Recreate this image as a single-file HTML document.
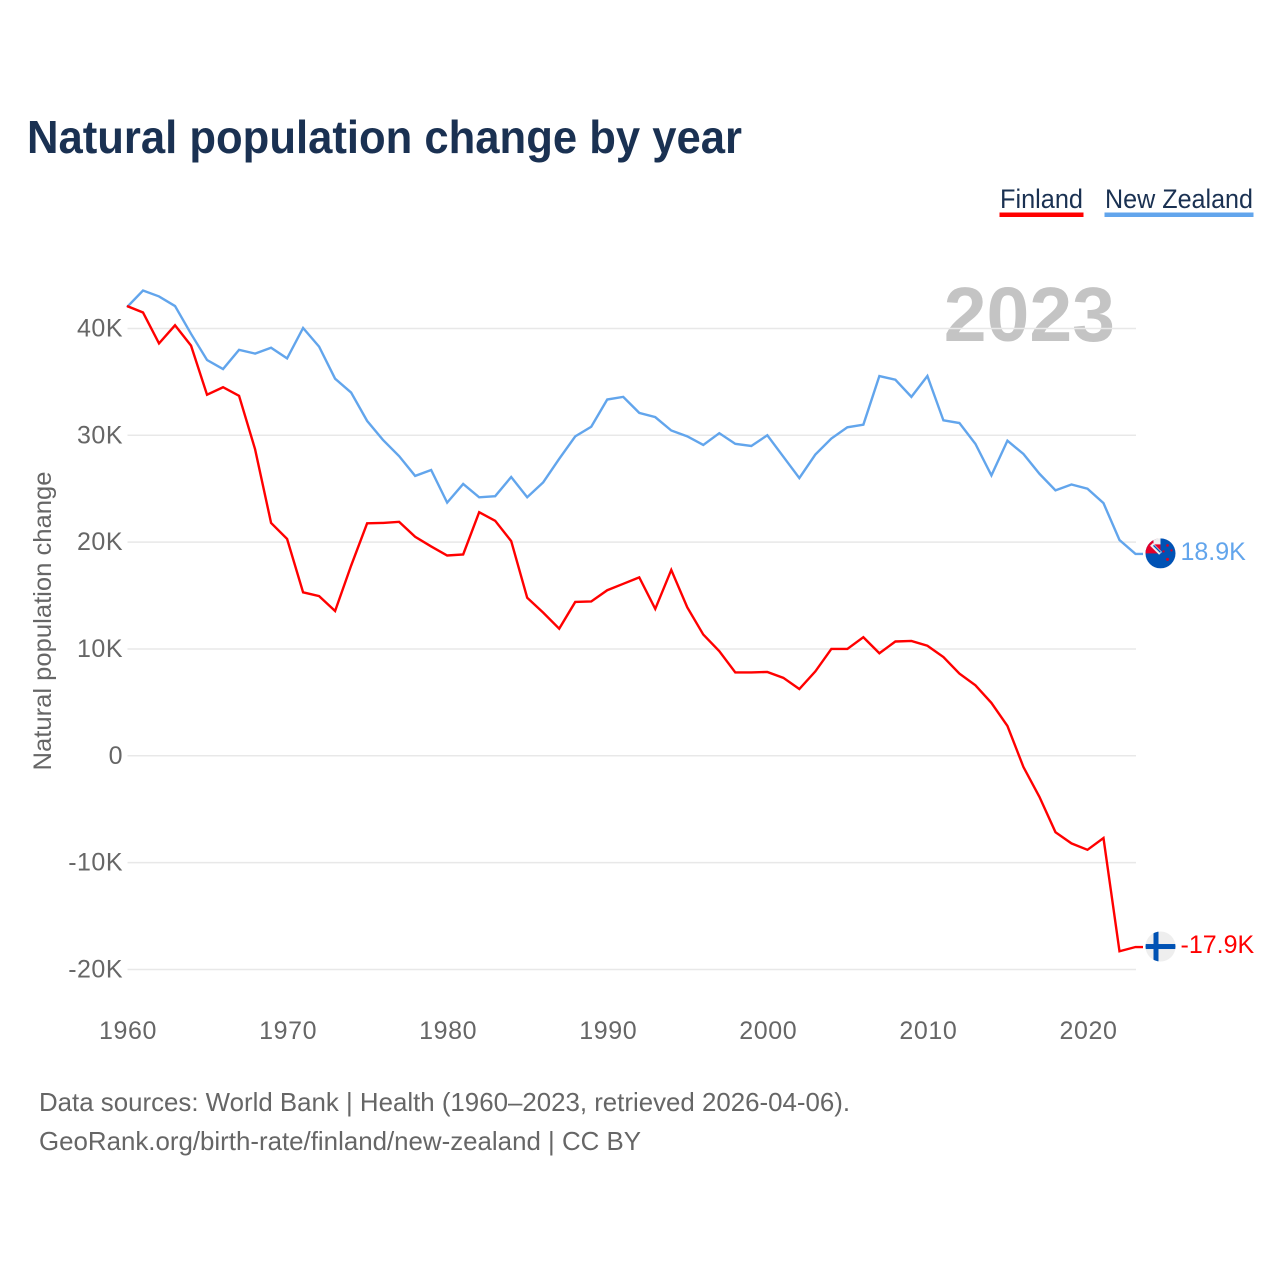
<!DOCTYPE html>
<html lang="en">
<head>
<meta charset="utf-8">
<title>Natural population change by year</title>
<style>
  html, body { margin: 0; padding: 0; background: #fff; }
  svg { display: block; font-family: "Liberation Sans", sans-serif; }
</style>
</head>
<body>
<svg id="chart" xmlns="http://www.w3.org/2000/svg" width="1280" height="1280" viewBox="0 0 1280 1280">
  <rect width="1280" height="1280" fill="#ffffff"/>
  <text x="27" y="153" font-size="46" font-weight="700" fill="#1a3152" textLength="715" lengthAdjust="spacingAndGlyphs">Natural population change by year</text>

  <g>
    <g>
      <text x="1000" y="208" font-size="27" fill="#1a3152" textLength="83" lengthAdjust="spacingAndGlyphs">Finland</text>
      <rect x="999.5" y="212.5" width="84" height="4.5" fill="#ff0000"/>
    </g>
    <g>
      <text x="1105" y="208" font-size="27" fill="#1a3152" textLength="148" lengthAdjust="spacingAndGlyphs">New Zealand</text>
      <rect x="1104.5" y="212.5" width="149" height="4.5" fill="#62a5ec"/>
    </g>
  </g>

  <text x="1115" y="341" text-anchor="end" font-size="77" font-weight="700" fill="#c4c4c4">2023</text>
  <text transform="translate(51 621) rotate(-90)" text-anchor="middle" font-size="25" fill="#666666" textLength="299" lengthAdjust="spacingAndGlyphs">Natural population change</text>

  <g id="grid"></g>
  <g id="yticks"></g>
  <g id="xticks"></g>
  <g id="series"></g>

  <defs>
    <clipPath id="nz-clip"><circle id="nz-clip-circle" r="15"/></clipPath>
    <clipPath id="fi-clip"><circle id="fi-clip-circle" r="15"/></clipPath>
  </defs>

  <g id="flag-nz" clip-path="url(#nz-clip)">
    <rect x="-15" y="-15" width="30" height="30" fill="#0052b4"/>
    <rect x="-15" y="-15" width="15" height="15" fill="#e4002b"/>
    <rect x="-15" y="-15" width="15" height="2" fill="#eeeeee"/>
    <rect x="-7" y="-15" width="7" height="6" fill="#eeeeee"/>
    <path d="M-9 -9 L0 0" stroke="#eeeeee" stroke-width="4"/>
    <path d="M-7 -8 L0 -1" stroke="#0052b4" stroke-width="1.3"/>
    <circle cx="7" cy="-8" r="1.3" fill="#d80027"/>
    <circle cx="11" cy="-3" r="1.1" fill="#d80027"/>
    <circle cx="3" cy="-2" r="1.2" fill="#d80027"/>
    <circle cx="7" cy="6" r="1.5" fill="#d80027"/>
  </g>
  <g id="flag-fi" clip-path="url(#fi-clip)">
    <rect x="-15" y="-15" width="30" height="30" fill="#eeeeee"/>
    <rect x="-15" y="-2.5" width="30" height="5" fill="#0052b4"/>
    <rect x="-7" y="-15" width="5" height="30" fill="#0052b4"/>
  </g>

  <text id="label-nz" font-size="25" fill="#62a5ec"></text>
  <text id="label-fi" font-size="25" fill="#ff0000"></text>

  <g>
    <text x="39" y="1111" font-size="26" fill="#666666" textLength="811" lengthAdjust="spacingAndGlyphs">Data sources: World Bank | Health (1960–2023, retrieved 2026-04-06).</text>
    <text x="39" y="1150" font-size="26" fill="#666666" textLength="602" lengthAdjust="spacingAndGlyphs">GeoRank.org/birth-rate/finland/new-zealand | CC BY</text>
  </g>
</svg>

<script>
const startYear = 1960;
const xTickYears = [1960, 1970, 1980, 1990, 2000, 2010, 2020];
const yTickValues = [40, 30, 20, 10, 0, -10, -20];
const finlandValues = [42.1, 41.5, 38.6, 40.3, 38.4, 33.8, 34.5, 33.7, 28.7, 21.8, 20.3, 15.3, 14.95, 13.55, 17.8, 21.76, 21.8, 21.9, 20.5, 19.6, 18.75, 18.85, 22.8, 22, 20.1, 14.8, 13.4, 11.9, 14.4, 14.45, 15.5, 16.1, 16.7, 13.75, 17.4, 13.9, 11.35, 9.8, 7.8, 7.8, 7.85, 7.3, 6.25, 7.9, 10, 10, 11.1, 9.6, 10.7, 10.75, 10.3, 9.25, 7.7, 6.6, 4.95, 2.8, -1.05, -3.85, -7.15, -8.2, -8.8, -7.7, -18.3, -17.9];
const newZealandValues = [42, 43.55, 43, 42.1, 39.5, 37.05, 36.2, 38, 37.65, 38.2, 37.2, 40.05, 38.3, 35.3, 34, 31.35, 29.55, 28.05, 26.2, 26.75, 23.7, 25.45, 24.2, 24.3, 26.1, 24.2, 25.6, 27.8, 29.9, 30.8, 33.35, 33.6, 32.1, 31.7, 30.45, 29.9, 29.1, 30.2, 29.2, 29, 30, 28, 26, 28.2, 29.7, 30.75, 31, 35.55, 35.2, 33.6, 35.55, 31.4, 31.15, 29.2, 26.25, 29.5, 28.25, 26.4, 24.85, 25.4, 25, 23.65, 20.2, 18.9];

const NS = 'http://www.w3.org/2000/svg';
function xScale(year) { return 127 + (year - 1960) * (1135.5 - 127) / 63; }
function yScale(v) { return 755.8 - v * 10.683; }
function gridX(year) { return 127.5 + (year - 1960) * (1136 - 127.5) / 63; }
function fmtK(v) { return v === 0 ? '0' : v + 'K'; }
function make(tag, attrs, parent) {
  const el = document.createElementNS(NS, tag);
  for (const k in attrs) el.setAttribute(k, attrs[k]);
  parent.appendChild(el);
  return el;
}

const grid = document.getElementById('grid');
const yticks = document.getElementById('yticks');
const xticks = document.getElementById('xticks');
const series = document.getElementById('series');

yTickValues.forEach(function (v) {
  const line = make('line', { x1: gridX(1960), x2: gridX(2023), y1: yScale(v), y2: yScale(v), stroke: '#e8e8e8', 'stroke-width': 1.5 }, grid);
  
  
  const t = make('text', { x: 123, y: yScale(v) + 8, 'text-anchor': 'end', 'font-size': 25, fill: '#666666', 'letter-spacing': 0.5 }, yticks);
  
  
  t.textContent = fmtK(v);
});

xTickYears.forEach(function (yr) {
  const t = make('text', { x: gridX(yr) + 0.5, y: 1039, 'text-anchor': 'middle', 'font-size': 25, fill: '#666666', 'letter-spacing': 0.6 }, xticks);
  
  
  t.textContent = yr;
});

function drawLine(values, color) {
  const pts = values.map(function (v, i) { return xScale(startYear + i) + ',' + yScale(v); });
  pts.push((xScale(startYear + values.length - 1) + 7.5) + ',' + yScale(values[values.length - 1]));
  return make('polyline', { points: pts.join(' '), fill: 'none', stroke: color, 'stroke-width': 2.4, 'stroke-linejoin': 'miter' }, series);
}

const nzLine = drawLine(newZealandValues, '#62a5ec');


const fiLine = drawLine(finlandValues, '#ff0000');



function placeEnd(values, flagId, clipId, labelId) {
  const last = values[values.length - 1];
  const y = yScale(last) - 0.5;
  document.getElementById(flagId).setAttribute('transform', 'translate(1160.5 ' + y + ')');
  document.getElementById(clipId).setAttribute('cx', 0);
  document.getElementById(clipId).setAttribute('cy', 0);
  const lab = document.getElementById(labelId);
  lab.setAttribute('x', 1180.5);
  lab.setAttribute('y', y + 6.5);
  lab.textContent = last.toFixed(1) + 'K';
}
placeEnd(newZealandValues, 'flag-nz', 'nz-clip-circle', 'label-nz');
placeEnd(finlandValues, 'flag-fi', 'fi-clip-circle', 'label-fi');
</script>
</body>
</html>
